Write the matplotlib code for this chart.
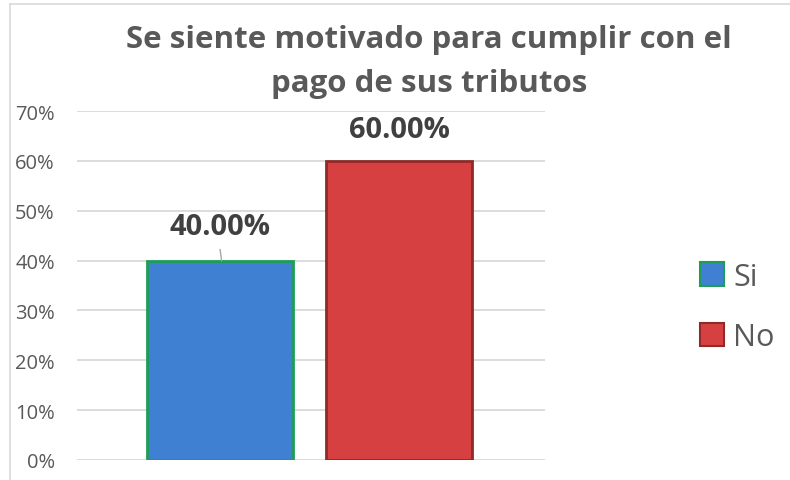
import matplotlib.pyplot as plt
from matplotlib.lines import Line2D
from matplotlib.patches import Patch
from matplotlib.ticker import PercentFormatter

categorias = ['Si', 'No']
valores = [0.40, 0.60]
etiquetas = ['40.00%', '60.00%']
colores = ['#3F80D2', '#D64040']
bordes = ['#1E9E55', '#8E2A28']

plt.rcParams['font.family'] = ['Open Sans', 'DejaVu Sans']

fig = plt.figure(figsize=(7.9, 4.81), dpi=100)
ax = fig.add_axes([77 / 790, 20 / 481, 468 / 790, 349 / 481])

x = list(range(len(categorias)))
ax.bar(x, valores, width=0.815, color=colores, edgecolor=bordes, linewidth=2, zorder=3)

ax.set_ylim(0, 0.7)
ax.set_xlim(-0.8, 1.816)
ax.set_yticks([i / 10 for i in range(8)])
ax.yaxis.set_major_formatter(PercentFormatter(1.0, decimals=0))
ax.tick_params(axis='y', length=0, pad=16, labelsize=14.5, labelcolor='#595959')
ax.set_xticks([])
ax.grid(axis='y', color='#D9D9D9', linewidth=1.3, zorder=0)
for s in ax.spines.values():
    s.set_visible(False)

# etiquetas de datos
offs = [0.068, 0.062]
for xi, v, t, o in zip(x, valores, etiquetas, offs):
    ax.text(xi, v + o, t, ha='center', va='center', fontsize=21,
            fontweight='bold', color='#404040')
# linea guia de la etiqueta azul
ax.plot([x[0], x[0] + 0.008], [valores[0] + 0.022, valores[0]], color='#A6A6A6', lw=1, zorder=4)

fig.text(0.543, 1 - 62 / 481, 'Se siente motivado para cumplir con el\npago de sus tributos',
         ha='center', va='center', fontsize=22.5, fontweight='bold', color='#595959',
         linespacing=1.6)

handles = [Patch(facecolor=c, edgecolor=b, linewidth=1.5) for c, b in zip(colores, bordes)]
fig.legend(handles, categorias, loc='center left', bbox_to_anchor=(672 / 790, 1 - 308 / 481),
           frameon=False, fontsize=22, labelcolor='#595959', handlelength=0.8,
           handleheight=0.8, handletextpad=0.3, labelspacing=1.0)

# borde del grafico
fig.add_artist(Line2D([10 / 790, 10 / 790], [0, 1 - 5 / 481], color='#D9D9D9', lw=1.2))
fig.add_artist(Line2D([10 / 790, 1], [1 - 5 / 481, 1 - 5 / 481], color='#D9D9D9', lw=1.2))

fig.savefig('out.png', dpi=100)
